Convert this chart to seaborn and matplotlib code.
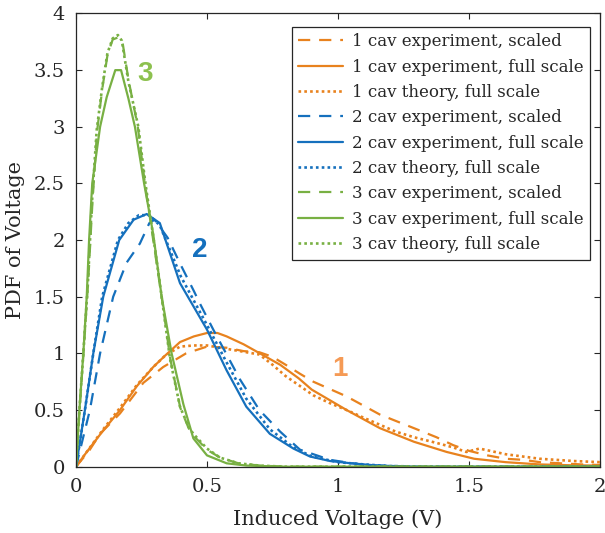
import matplotlib
matplotlib.use("Agg")
import matplotlib.pyplot as plt
import seaborn as sns
import numpy as np
import pandas as pd

# ---------------- data ----------------
# 1 cavity
c1_exp_scaled_x = [0, 0.05, 0.092, 0.168, 0.257, 0.333, 0.42, 0.5, 0.575, 0.64, 0.70, 0.75, 0.80, 0.855, 0.906, 1.033, 1.16, 1.29, 1.376, 1.44, 1.50, 1.57, 1.64, 1.71, 1.77, 1.85, 1.93, 2.0]
c1_exp_scaled_y = [0, 0.14, 0.29, 0.47, 0.74, 0.88, 1.0, 1.06, 1.05, 1.02, 1.01, 0.97, 0.90, 0.82, 0.75, 0.62, 0.46, 0.34, 0.26, 0.19, 0.14, 0.10, 0.07, 0.06, 0.04, 0.03, 0.02, 0.015]
c1_exp_full_x = [0, 0.041, 0.104, 0.168, 0.232, 0.295, 0.34, 0.397, 0.45, 0.5, 0.54, 0.575, 0.64, 0.702, 0.779, 0.85, 0.9, 1.033, 1.16, 1.29, 1.415, 1.52, 1.64, 1.77, 1.9, 2.0]
c1_exp_full_y = [0, 0.13, 0.32, 0.50, 0.71, 0.88, 0.98, 1.10, 1.15, 1.18, 1.18, 1.15, 1.08, 1.00, 0.90, 0.78, 0.68, 0.50, 0.34, 0.22, 0.13, 0.07, 0.04, 0.02, 0.012, 0.01]
c1_theory_x = [0, 0.041, 0.104, 0.168, 0.232, 0.295, 0.34, 0.397, 0.45, 0.5, 0.55, 0.626, 0.70, 0.75, 0.80, 0.85, 0.906, 0.97, 1.033, 1.1, 1.16, 1.22, 1.29, 1.376, 1.44, 1.49, 1.54, 1.58, 1.64, 1.77, 1.9, 2.0]
c1_theory_y = [0, 0.13, 0.33, 0.52, 0.72, 0.88, 0.98, 1.06, 1.07, 1.07, 1.05, 1.02, 0.99, 0.90, 0.80, 0.72, 0.63, 0.56, 0.50, 0.43, 0.37, 0.31, 0.26, 0.21, 0.17, 0.13, 0.16, 0.14, 0.11, 0.07, 0.05, 0.04]

# 2 cavities
c2_exp_scaled_x = [0, 0.053, 0.092, 0.142, 0.193, 0.244, 0.28, 0.30, 0.35, 0.40, 0.45, 0.473, 0.524, 0.626, 0.70, 0.779, 0.855, 0.97, 1.1, 1.3, 2.0]
c2_exp_scaled_y = [0, 0.5, 1.0, 1.5, 1.8, 1.97, 2.15, 2.18, 2.02, 1.78, 1.55, 1.44, 1.21, 0.77, 0.50, 0.31, 0.15, 0.06, 0.015, 0.0, 0.0]
c2_exp_full_x = [0, 0.034, 0.066, 0.104, 0.165, 0.22, 0.27, 0.32, 0.397, 0.5, 0.575, 0.65, 0.74, 0.83, 0.893, 0.97, 1.05, 1.15, 1.3, 2.0]
c2_exp_full_y = [0, 0.5, 1.0, 1.5, 2.0, 2.18, 2.23, 2.15, 1.62, 1.21, 0.85, 0.53, 0.29, 0.16, 0.09, 0.05, 0.03, 0.01, 0.0, 0.0]
c2_theory_x = [0, 0.034, 0.066, 0.10, 0.16, 0.20, 0.24, 0.28, 0.32, 0.40, 0.5, 0.575, 0.65, 0.74, 0.83, 0.90, 1.0, 1.1, 1.2, 1.4, 2.0]
c2_theory_y = [0, 0.5, 1.0, 1.5, 2.0, 2.15, 2.22, 2.22, 2.13, 1.68, 1.25, 0.92, 0.60, 0.33, 0.17, 0.09, 0.04, 0.02, 0.005, 0.0, 0.0]

# 3 cavities
c3_exp_scaled_x = [0, 0.015, 0.03, 0.047, 0.062, 0.08, 0.1, 0.12, 0.14, 0.162, 0.178, 0.2, 0.236, 0.263, 0.298, 0.33, 0.36, 0.398, 0.43, 0.45, 0.5, 0.55, 0.62, 0.7, 0.8, 2.0]
c3_exp_scaled_y = [0, 0.55, 1.05, 1.65, 2.3, 2.95, 3.33, 3.63, 3.77, 3.79, 3.74, 3.42, 3.0, 2.5, 1.95, 1.45, 0.95, 0.52, 0.34, 0.27, 0.15, 0.08, 0.03, 0.01, 0.0, 0.0]
c3_exp_full_x = [0, 0.013, 0.028, 0.041, 0.05, 0.062, 0.092, 0.117, 0.15, 0.172, 0.2, 0.225, 0.26, 0.295, 0.327, 0.365, 0.41, 0.448, 0.5, 0.575, 0.65, 0.8, 2.0]
c3_exp_full_y = [0, 0.5, 1.0, 1.5, 2.0, 2.5, 3.0, 3.26, 3.5, 3.5, 3.25, 3.0, 2.5, 2.05, 1.5, 1.0, 0.55, 0.25, 0.10, 0.03, 0.01, 0.0, 0.0]
c3_theory_x = [0, 0.013, 0.028, 0.045, 0.06, 0.079, 0.1, 0.12, 0.14, 0.16, 0.175, 0.2, 0.238, 0.265, 0.3, 0.33, 0.359, 0.397, 0.43, 0.448, 0.5, 0.55, 0.62, 0.7, 0.8, 2.0]
c3_theory_y = [0, 0.5, 1.0, 1.6, 2.3, 2.97, 3.35, 3.65, 3.78, 3.81, 3.76, 3.4, 3.0, 2.5, 1.95, 1.45, 0.95, 0.53, 0.35, 0.29, 0.16, 0.08, 0.03, 0.01, 0.0, 0.0]

labels = ["1 cav experiment, scaled", "1 cav experiment, full scale", "1 cav theory, full scale",
          "2 cav experiment, scaled", "2 cav experiment, full scale", "2 cav theory, full scale",
          "3 cav experiment, scaled", "3 cav experiment, full scale", "3 cav theory, full scale"]

x_ticks = [0, 0.5, 1, 1.5, 2]
y_ticks = [0, 0.5, 1, 1.5, 2, 2.5, 3, 3.5, 4]
x_ticklabels = ["0", "0.5", "1", "1.5", "2"]
y_ticklabels = ["0", "0.5", "1", "1.5", "2", "2.5", "3", "3.5", "4"]

# ---------------- style ----------------
sns.set_style("white")
plt.rcParams["font.family"] = ["DejaVu Serif"]

orange = "#E8821E"
blue = "#1570BD"
green = "#78B043"

series = [
    (c1_exp_scaled_x, c1_exp_scaled_y, orange, "dashed"),
    (c1_exp_full_x, c1_exp_full_y, orange, "solid"),
    (c1_theory_x, c1_theory_y, orange, "dotted"),
    (c2_exp_scaled_x, c2_exp_scaled_y, blue, "dashed"),
    (c2_exp_full_x, c2_exp_full_y, blue, "solid"),
    (c2_theory_x, c2_theory_y, blue, "dotted"),
    (c3_exp_scaled_x, c3_exp_scaled_y, green, "dashed"),
    (c3_exp_full_x, c3_exp_full_y, green, "solid"),
    (c3_theory_x, c3_theory_y, green, "dotted"),
]

fig = plt.figure(figsize=(6.05, 5.33), dpi=100)
ax = fig.add_axes([0.1256, 0.1244, 0.8661, 0.8503])

for (xs, ys, col, ls), lab in zip(series, labels):
    df = pd.DataFrame({"x": xs, "y": ys})
    sns.lineplot(data=df, x="x", y="y", ax=ax, sort=False, estimator=None,
                 color=col, linewidth=1.6, label=lab)
    ln = ax.lines[-1]
    if ls == "dashed":
        ln.set_dashes([5.5, 4])
    elif ls == "dotted":
        ln.set_dashes([1, 1.2])
        ln.set_linewidth(1.9)

ax.set_xlim(0, 2)
ax.set_ylim(0, 4)
ax.set_xticks(x_ticks)
ax.set_xticklabels(x_ticklabels)
ax.set_yticks(y_ticks)
ax.set_yticklabels(y_ticklabels)
ax.tick_params(direction="in", length=4, width=0.8, color="#262626",
               labelsize=14, labelcolor="#262626", top=True, right=True,
               bottom=True, left=True, pad=8)
for s in ax.spines.values():
    s.set_visible(True)
    s.set_color("#262626")
    s.set_linewidth(0.9)

ax.set_xlabel("Induced Voltage (V)", fontsize=15, color="#262626", labelpad=10)
ax.set_ylabel("PDF of Voltage", fontsize=15, color="#262626", labelpad=6)

leg = ax.legend(loc="upper right", bbox_to_anchor=(0.981, 0.971), fontsize=12,
                frameon=True, fancybox=False, edgecolor="#262626", framealpha=1,
                handlelength=2.7, handletextpad=0.5, labelspacing=0.5,
                borderpad=0.4, borderaxespad=0)
leg.get_frame().set_linewidth(0.9)
for t in leg.get_texts():
    t.set_color("#262626")

num_font = dict(fontsize=20, fontweight="bold", family=["Liberation Sans", "DejaVu Sans"])
ax.text(0.265, 3.47, "3", color="#8DC14F", ha="center", va="center", **num_font)
ax.text(0.473, 1.91, "2", color="#1570BD", ha="center", va="center", **num_font)
ax.text(1.008, 0.86, "1", color="#F59A55", ha="center", va="center", **num_font)

fig.savefig("out.png", dpi=100)
